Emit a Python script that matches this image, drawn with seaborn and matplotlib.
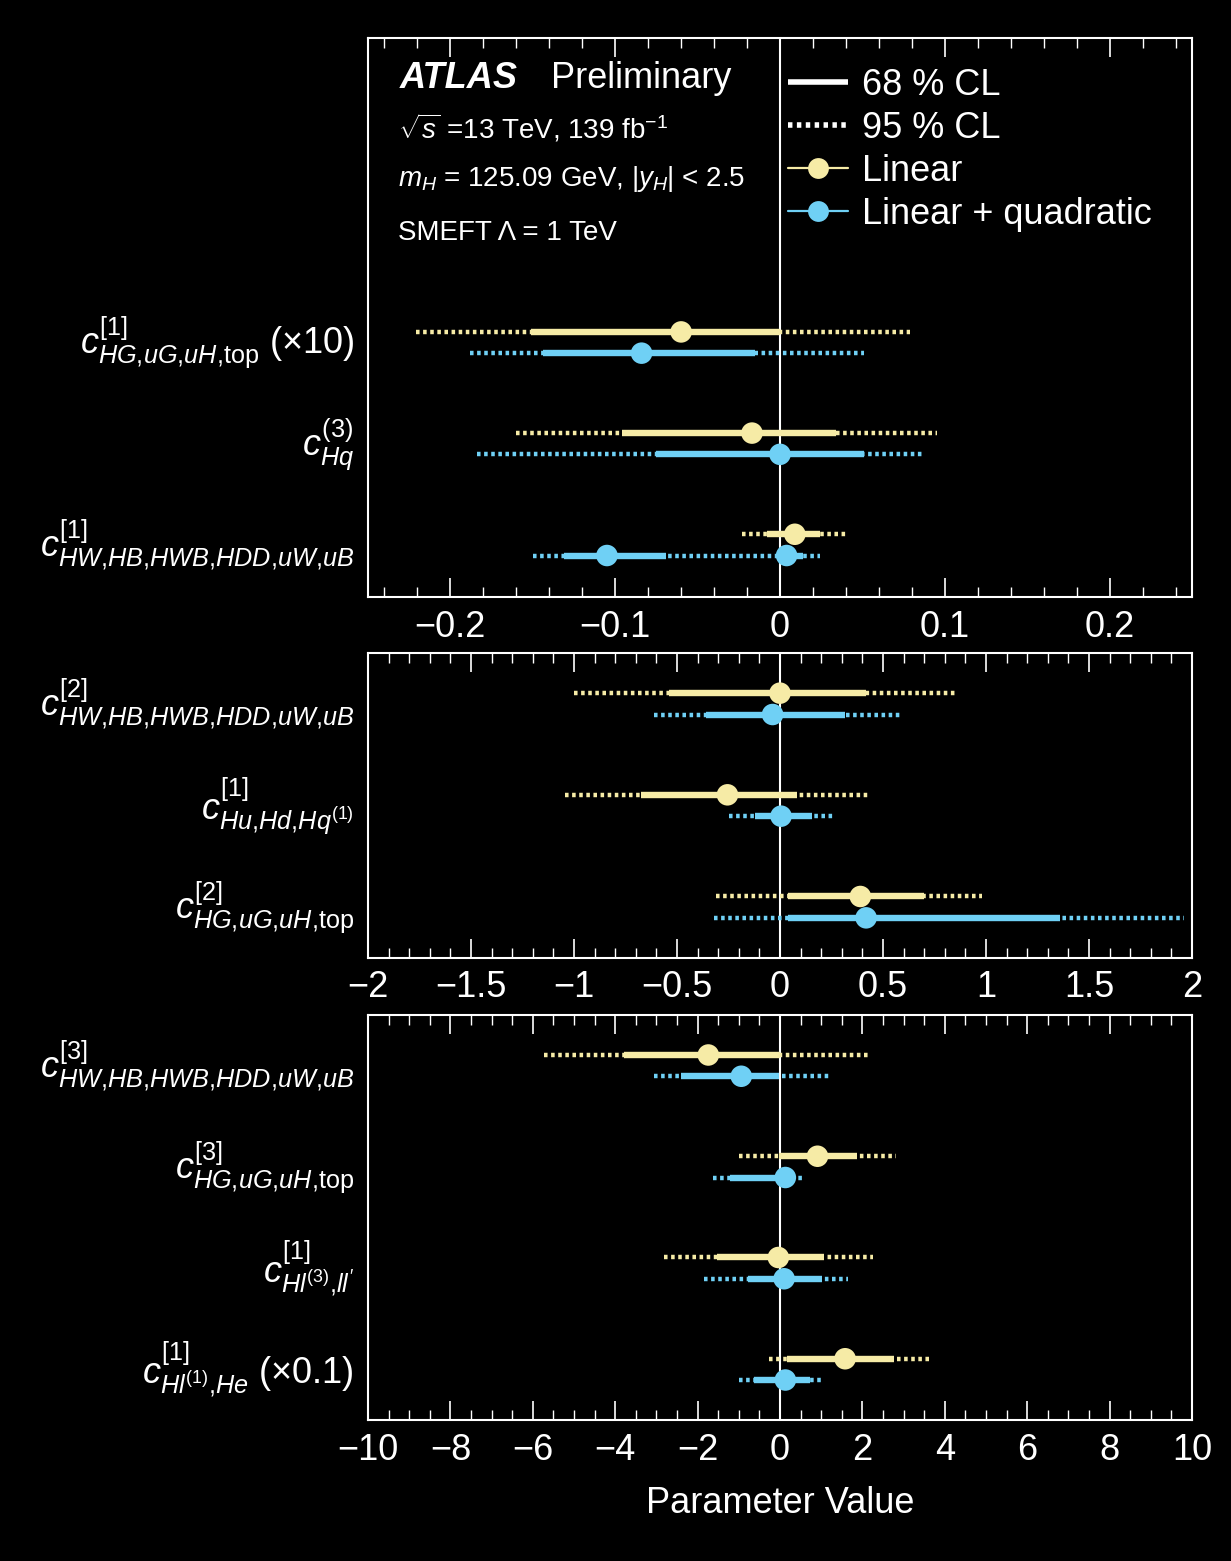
import numpy as np
import pandas as pd
import matplotlib
matplotlib.use("Agg")
import matplotlib.pyplot as plt
import seaborn as sns
from matplotlib.lines import Line2D
from matplotlib.ticker import MultipleLocator, FuncFormatter

# ---------------- data ----------------
p1_labels = [r"$c^{[1]}_{HG{,}uG{,}uH{,}\mathrm{top}}$ $(\times 10)$",
             r"$c^{(3)}_{Hq}$",
             r"$c^{[1]}_{HW{,}HB{,}HWB{,}HDD{,}uW{,}uB}$"]
p1_lin_best = [[-0.060], [-0.017], [0.009]]
p1_lin_68 = [[(-0.151, 0.000)], [(-0.096, 0.034)], [(-0.008, 0.024)]]
p1_lin_95 = [[(-0.221, 0.079)], [(-0.160, 0.095)], [(-0.023, 0.040)]]
p1_quad_best = [[-0.084], [0.000], [-0.105, 0.004]]
p1_quad_68 = [[(-0.144, -0.015)], [(-0.075, 0.051)], [(-0.131, -0.069), (-0.002, 0.014)]]
p1_quad_95 = [[(-0.188, 0.051)], [(-0.184, 0.087)], [(-0.150, 0.024)]]

p2_labels = [r"$c^{[2]}_{HW{,}HB{,}HWB{,}HDD{,}uW{,}uB}$",
             r"$c^{[1]}_{Hu{,}Hd{,}Hq^{(1)}}$",
             r"$c^{[2]}_{HG{,}uG{,}uH{,}\mathrm{top}}$"]
p2_lin_best = [[0.000], [-0.255], [0.390]]
p2_lin_68 = [[(-0.540, 0.416)], [(-0.674, 0.084)], [(0.038, 0.700)]]
p2_lin_95 = [[(-1.000, 0.854)], [(-1.046, 0.428)], [(-0.312, 0.979)]]
p2_quad_best = [[-0.036], [0.005], [0.418]]
p2_quad_68 = [[(-0.360, 0.314)], [(-0.120, 0.153)], [(0.038, 1.360)]]
p2_quad_95 = [[(-0.613, 0.586)], [(-0.250, 0.260)], [(-0.319, 1.960)]]

p3_labels = [r"$c^{[3]}_{HW{,}HB{,}HWB{,}HDD{,}uW{,}uB}$",
             r"$c^{[3]}_{HG{,}uG{,}uH{,}\mathrm{top}}$",
             r"$c^{[1]}_{Hl^{(3)}{,}ll'}$",
             r"$c^{[1]}_{Hl^{(1)}{,}He}$ $(\times 0.1)$"]
p3_lin_best = [[-1.74], [0.91], [-0.04], [1.58]]
p3_lin_68 = [[(-3.78, 0.00)], [(-0.03, 1.87)], [(-1.54, 1.07)], [(0.17, 2.77)]]
p3_lin_95 = [[(-5.73, 2.16)], [(-1.00, 2.82)], [(-2.82, 2.25)], [(-0.26, 3.64)]]
p3_quad_best = [[-0.94], [0.13], [0.10], [0.13]]
p3_quad_68 = [[(-2.41, -0.03)], [(-1.22, 0.29)], [(-0.78, 1.02)], [(-0.63, 0.74)]]
p3_quad_95 = [[(-3.07, 1.19)], [(-1.63, 0.55)], [(-1.85, 1.66)], [(-0.99, 1.02)]]

models = ["Linear", "Linear + quadratic"]
colors = {"Linear": "#F6EBA6", "Linear + quadratic": "#6FD0F5"}

# ---------------- style ----------------
sns.set_theme(style="ticks")
plt.rcParams.update({
    "figure.facecolor": "black",
    "axes.facecolor": "black",
    "savefig.facecolor": "black",
    "axes.edgecolor": "white",
    "text.color": "white",
    "axes.labelcolor": "white",
    "xtick.color": "white",
    "ytick.color": "white",
    "mathtext.fontset": "custom",
    "mathtext.rm": "Liberation Sans",
    "mathtext.it": "Liberation Sans:italic",
    "mathtext.bf": "Liberation Sans:bold",
})
plt.rcParams["font.family"] = ["Liberation Sans", "DejaVu Sans"]

W, H = 1231, 1561
fig = plt.figure(figsize=(W / 100, H / 100), dpi=100)

def fr(px_left, px_top, px_right, px_bottom):
    return [px_left / W, 1 - px_bottom / H, (px_right - px_left) / W, (px_bottom - px_top) / H]

ax1 = fig.add_axes(fr(368, 38, 1192, 597))
ax2 = fig.add_axes(fr(368, 653, 1192, 958))
ax3 = fig.add_axes(fr(368, 1015, 1192, 1420))

OFF = 0.105
DOT = (0, (0.8, 0.8))
fmt = FuncFormatter(lambda v, p: ("%g" % v).replace("-", "\u2212"))

def draw_panel(ax, labels, lin, quad, xlim, major, minor, ylim):
    ax.axvline(0, color="white", lw=1.5, zorder=1)
    rows = []
    for model, (best, s68, s95), off in zip(models, [lin, quad], [-OFF, OFF]):
        c = colors[model]
        for i in range(len(labels)):
            y = i + off
            for lo, hi in s95[i]:
                ax.plot([lo, hi], [y, y], color=c, lw=3.2, ls=DOT, zorder=2,
                        solid_capstyle="butt", dash_capstyle="butt")
            for lo, hi in s68[i]:
                ax.plot([lo, hi], [y, y], color=c, lw=4.6, ls="-", zorder=3,
                        solid_capstyle="butt")
            for b in best[i]:
                rows.append({"x": b, "y": y, "model": model})
    df = pd.DataFrame(rows)
    sns.scatterplot(data=df, x="x", y="y", hue="model", palette=colors, s=240,
                    edgecolor="none", legend=False, ax=ax, zorder=4)
    ax.set_xlim(*xlim)
    ax.set_ylim(*ylim)
    ax.set_xlabel("")
    ax.set_ylabel("")
    ax.tick_params(axis="y", length=0, pad=10, colors="white")
    ax.xaxis.set_major_locator(MultipleLocator(major))
    ax.xaxis.set_minor_locator(MultipleLocator(minor))
    ax.xaxis.set_major_formatter(fmt)
    ax.tick_params(axis="x", which="both", direction="in", top=True, bottom=True,
                   colors="white", labelsize=26, pad=9)
    ax.tick_params(axis="x", which="major", length=14, width=1.2)
    ax.tick_params(axis="x", which="minor", length=7, width=1.0)
    ax.set_yticks(range(len(labels)))
    ax.set_yticklabels(labels, fontsize=26, va="center")
    for sp in ax.spines.values():
        sp.set_color("white")
        sp.set_linewidth(1.5)
        sp.set_visible(True)

draw_panel(ax1, p1_labels, (p1_lin_best, p1_lin_68, p1_lin_95),
           (p1_quad_best, p1_quad_68, p1_quad_95), (-0.25, 0.25), 0.1, 0.02, (2.515, -3.01))
draw_panel(ax2, p2_labels, (p2_lin_best, p2_lin_68, p2_lin_95),
           (p2_quad_best, p2_quad_68, p2_quad_95), (-2, 2), 0.5, 0.1, (2.5, -0.5))
draw_panel(ax3, p3_labels, (p3_lin_best, p3_lin_68, p3_lin_95),
           (p3_quad_best, p3_quad_68, p3_quad_95), (-10, 10), 2, 0.5, (3.5, -0.5))
ax3.set_xlabel("Parameter Value", fontsize=26, labelpad=13)

# ---------------- annotations ----------------
fig.text(400 / W, 1 - 79 / H, "ATLAS", fontsize=26, fontweight="bold", fontstyle="italic",
         va="center", ha="left")
fig.text(551 / W, 1 - 79 / H, "Preliminary", fontsize=26, va="center", ha="left")
fig.text(398 / W, 1 - 128 / H, r"$\sqrt{s}$ =13 TeV, 139 fb$^{-1}$", fontsize=20,
         va="center", ha="left")
fig.text(398 / W, 1 - 179 / H, r"$m_H$ = 125.09 GeV, $|y_H|$ < 2.5", fontsize=20,
         va="center", ha="left")
fig.text(398 / W, 1 - 233 / H, "SMEFT \u039b = 1 TeV", fontsize=20, va="center", ha="left")

handles = [
    Line2D([], [], color="white", lw=4.0, ls="-", solid_capstyle="butt"),
    Line2D([], [], color="white", lw=4.0, ls=DOT, dash_capstyle="butt"),
    Line2D([], [], color=colors["Linear"], lw=1.6, marker="o", ms=15, mec="none"),
    Line2D([], [], color=colors["Linear + quadratic"], lw=1.6, marker="o", ms=15, mec="none"),
]
leg = ax1.legend(handles, ["68 % CL", "95 % CL", "Linear", "Linear + quadratic"],
                 loc="upper left", bbox_to_anchor=(788 / W, 1 - 68 / H),
                 bbox_transform=fig.transFigure, frameon=False, fontsize=26,
                 handlelength=1.65, handletextpad=0.4, labelspacing=0.22,
                 borderpad=0, borderaxespad=0)
for t in leg.get_texts():
    t.set_color("white")

fig.savefig("out.png", dpi=100, facecolor="black")
